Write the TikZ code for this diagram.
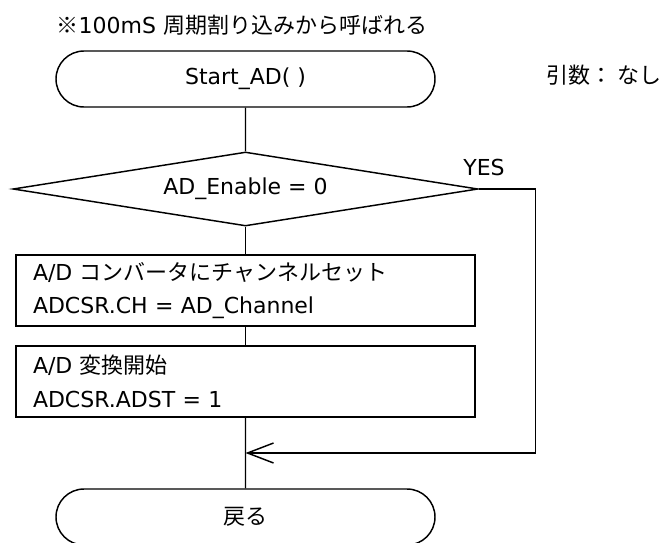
\documentclass[tikz,border=0pt]{standalone}
\usepackage{fontspec}
\setmainfont{DejaVu Sans}
\newfontfamily\jp{Noto Sans CJK JP}
\usetikzlibrary{calc,arrows.meta,shapes.geometric,shapes.misc}
\tikzset{
	terminal/.style={draw, rounded rectangle, minimum width=284.25pt, minimum height=42pt, inner sep=0pt},
	decision/.style={draw, diamond, aspect=6.28, minimum width=348.75pt, minimum height=55.5pt, inner sep=0pt},
	process/.style={draw, rectangle, align=left, text width=318.75pt, inner xsep=12.75pt, inner ysep=0pt, minimum height=53.25pt, font=\fontsize{16.5}{25}\selectfont},
	label/.style={inner sep=0pt},
}

\begin{document}
\begin{tikzpicture}[x=0.75pt, y=-0.75pt, line width=1.1pt, font=\fontsize{16.5}{20}\selectfont]
		%%%%% START %%%%%
		\useasboundingbox (0,0) rectangle (665,543);
		
		\node[label, anchor=west] (note) at (56,25) {{\jp ※}100mS {\jp 周期割り込みから呼ばれる}};
		\node[terminal] (start) at (245.5,79) {Start\_AD( )};
		\node[label, anchor=west] (args) at (546,75) {\jp 引数： なし};
		
		\node[decision] (cond) at (245.5,189) {AD\_Enable = 0};
		\node[label] (yes) at (484,167) {YES};
		
		\node[process] (chset) at (245.5,290.5) {A/D {\jp コンバータにチャンネルセット}\\ADCSR.CH = AD\_Channel};
		\node[process] (adst) at (245.5,381.5) {A/D {\jp 変換開始}\\ADCSR.ADST = 1};
		
		\node[terminal] (ret) at (245.5,517) {\jp 戻る};
		
		\coordinate (join) at ($(adst.south)!0.5!(ret.north)$);
		
		\draw (start) -- (cond);
		\draw (cond) -- (chset);
		\draw (chset) -- (adst);
		\draw (adst) -- (ret);
		\draw[-{Straight Barb[length=19.5pt, width=15pt]}] (cond.east) -- ++(57,0) |- (join);
		
		%%%%% END %%%%%
\end{tikzpicture}
\end{document}
